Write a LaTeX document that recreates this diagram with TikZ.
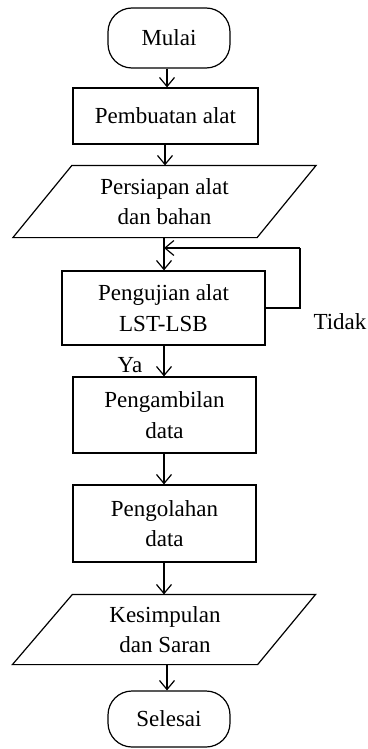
\documentclass[tikz,border=0pt]{standalone}
\usepackage{fontspec}
\setmainfont{Liberation Serif}
\usetikzlibrary{arrows.meta,calc}
\begin{document}
\begin{tikzpicture}[x=1pt,y=-1pt,
  line width=1.2pt,
  every node/.style={inner sep=0pt, align=center, font=\fontsize{23}{30.5}\selectfont},
  term/.style={draw, rounded corners=24pt, minimum width=122pt},
  proc/.style={draw, minimum width=183pt},
  io/.style={draw=none, minimum width=184pt},
  arr/.style={-{Straight Barb[length=9pt,width=15pt]}},
  lbl/.style={}
]
\useasboundingbox (0,0) rectangle (367,749);
\node[term, minimum height=60pt] (mulai) at (169,38) {Mulai};
\node[proc, minimum width=185pt, minimum height=56pt] (buat) at (165.5,116) {Pembuatan alat};
\node[io, minimum height=71pt] (siap) at (164.5,201.5) {Persiapan alat\\dan bahan};
\draw (siap.north west) -- ($(siap.north east)+(59,0)$) -- (siap.south east) -- ($(siap.south west)-(59,0)$) -- cycle;
\node[proc, minimum width=203pt, minimum height=74pt] (uji) at (163.5,308) {Pengujian alat\\LST-LSB};
\node[proc, minimum height=76pt] (ambil) at (164.5,415) {Pengambilan\\data};
\node[proc, minimum height=77pt] (olah) at (164.5,523.5) {Pengolahan\\data};
\node[io, minimum height=69pt] (simpul) at (165,629.5) {Kesimpulan\\dan Saran};
\draw (simpul.north west) -- ($(simpul.north east)+(58,0)$) -- (simpul.south east) -- ($(simpul.south west)-(60,0)$) -- cycle;
\node[term, minimum height=56pt] (selesai) at (169,719) {Selesai};
\node[lbl] (ya) at (130,365) {Ya};
\node[lbl] (tidak) at (340,322) {Tidak};
\coordinate (j) at (164,248);
\coordinate (loop) at (300,248);
\draw[arr] (mulai.south -| 167,0) -- (buat.north -| 167,0);
\draw[arr] (buat.south -| 165,0) -- (siap.north -| 165,0);
\draw[arr] (siap.south -| 164,0) -- (uji.north -| 164,0);
\draw (uji.east) -| (loop);
\draw[arr] (loop) -- (j);
\draw[arr] (uji.south -| 164,0) -- (ambil.north -| 164,0);
\draw[arr] (ambil.south -| 164,0) -- (olah.north -| 164,0);
\draw[arr] (olah.south -| 164,0) -- (simpul.north -| 164,0);
\draw[arr] (simpul.south -| 167,0) -- (selesai.north -| 167,0);
\end{tikzpicture}
\end{document}
